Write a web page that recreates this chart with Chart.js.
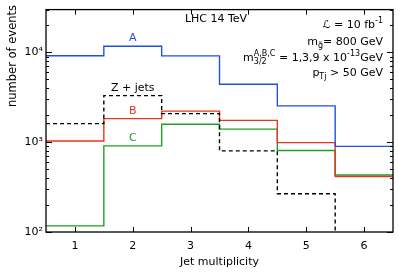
<!DOCTYPE html>
<html>
<head>
<meta charset="utf-8">
<script src="https://cdn.jsdelivr.net/npm/chart.js@4/dist/chart.umd.min.js"></script>
<style>
  html, body { margin: 0; padding: 0; background: #fff; }
  canvas { display: block; }
</style>
</head>
<body>
<canvas id="grafica" width="399" height="279"></canvas>
<script>
// jet multiplicity bins
const jetBins = [1, 2, 3, 4, 5, 6];
// number of events per bin
const modelA = [9200, 11700, 9150, 4430, 2540, 900];
const modelB = [1030, 1830, 2220, 1750, 990, 415];
const modelC = [117, 910, 1585, 1400, 810, 432];
const zJets = [1610, 3300, 2080, 800, 267, 50];
const yTickLabels = { 100: '10²', 1000: '10³', 10000: '10⁴' };

const FONT = 'DejaVu Sans';

// histogram outline: two points per bin (left edge, right edge)
function steps(values) {
    let pts = [];
    jetBins.forEach((b, i) => {
        pts.push({ x: b - 0.5, y: values[i] });
        pts.push({ x: b + 0.5, y: values[i] });
    });
    return pts;
}

function serie(label, values, color, dash) {
    return {
        label: label,
        data: steps(values),
        borderColor: color,
        borderWidth: 1.4,
        borderDash: dash || [],
        pointRadius: 0,
        fill: false,
        tension: 0
    };
}

// draws text made of normal / sub / sup pieces, right aligned at x
function richText(ctx, parts, xRight, y) {
    const big = '11px "' + FONT + '"';
    const small = '8px "' + FONT + '"';
    let widths = parts.map(p => {
        if (p.t === 'n') { ctx.font = big; return ctx.measureText(p.s).width; }
        ctx.font = small;
        if (p.t === 'supsub') return Math.max(ctx.measureText(p.s).width, ctx.measureText(p.b).width);
        return ctx.measureText(p.s).width;
    });
    let x = xRight - widths.reduce((a, b) => a + b, 0);
    ctx.textAlign = 'left';
    ctx.textBaseline = 'middle';
    parts.forEach((p, i) => {
        if (p.t === 'n') { ctx.font = big; ctx.fillText(p.s, x, y); }
        else if (p.t === 'sub') { ctx.font = small; ctx.fillText(p.s, x, y + 4); }
        else if (p.t === 'sup') { ctx.font = small; ctx.fillText(p.s, x, y - 4); }
        else { ctx.font = small; ctx.fillText(p.s, x, y - 4); ctx.fillText(p.b, x, y + 4); }
        x += widths[i];
    });
}

const marcoPlugin = {
    id: 'marco',
    afterDatasetsDraw(chart) {
        const ctx = chart.ctx;
        const a = chart.chartArea;
        const xs = chart.scales.x;
        const ys = chart.scales.y;
        ctx.save();
        ctx.strokeStyle = '#000';
        ctx.lineWidth = 1.3;
        ctx.strokeRect(a.left, a.top, a.right - a.left, a.bottom - a.top);
        ctx.lineWidth = 1;
        ctx.beginPath();
        jetBins.forEach(b => {
            const px = Math.round(xs.getPixelForValue(b)) + 0.5;
            ctx.moveTo(px, a.bottom); ctx.lineTo(px, a.bottom - 5);
            ctx.moveTo(px, a.top); ctx.lineTo(px, a.top + 5);
        });
        for (let dec = 100; dec <= 10000; dec *= 10) {
            for (let m = 1; m <= 9; m++) {
                const v = dec * m;
                if (v > ys.max) break;
                const py = Math.round(ys.getPixelForValue(v)) + 0.5;
                const len = m === 1 ? 6 : 3;
                ctx.moveTo(a.left, py); ctx.lineTo(a.left + len, py);
                ctx.moveTo(a.right, py); ctx.lineTo(a.right - len, py);
            }
        }
        ctx.stroke();

        // curve labels above bin 2
        const x2 = xs.getPixelForValue(2);
        ctx.font = '11px "' + FONT + '"';
        ctx.textAlign = 'center';
        ctx.textBaseline = 'middle';
        [['A', modelA, '#1f4fe6'], ['Z + jets', zJets, '#000'], ['B', modelB, '#e8341c'], ['C', modelC, '#1f9e25']].forEach(l => {
            ctx.fillStyle = l[2];
            ctx.fillText(l[0], x2, ys.getPixelForValue(l[1][1]) - 8);
        });

        ctx.fillStyle = '#000';
        ctx.fillText('LHC 14 TeV', 216, 19);

        // axis titles
        ctx.fillText('Jet multiplicity', (a.left + a.right) / 2, 262);
        ctx.save();
        ctx.translate(13, 56);
        ctx.rotate(-Math.PI / 2);
        ctx.font = '11.5px "' + FONT + '"';
        ctx.fillText('number of events', 0, 0);
        ctx.restore();

        const xr = a.right - 10;
        richText(ctx, [{ t: 'n', s: 'ℒ = 10 fb' }, { t: 'sup', s: '-1' }], xr, 25);
        richText(ctx, [{ t: 'n', s: 'm' }, { t: 'sub', s: 'g̃' }, { t: 'n', s: '= 800 GeV' }], xr, 42);
        richText(ctx, [{ t: 'n', s: 'm' }, { t: 'supsub', s: 'A,B,C', b: '3/2' }, { t: 'n', s: ' = 1,3,9 x 10' }, { t: 'sup', s: '-13' }, { t: 'n', s: 'GeV' }], xr, 58);
        richText(ctx, [{ t: 'n', s: 'p' }, { t: 'sub', s: 'Tj' }, { t: 'n', s: ' > 50 GeV' }], xr, 73);
        ctx.restore();
    }
};

const ctx = document.getElementById('grafica').getContext('2d');
new Chart(ctx, {
    type: 'line',
    data: {
        datasets: [
            serie('A', modelA, '#1f4fe6'),
            serie('Z + jets', zJets, '#000', [4, 3]),
            serie('B', modelB, '#e8341c'),
            serie('C', modelC, '#1f9e25')
        ]
    },
    options: {
        responsive: false,
        animation: false,
        layout: { padding: { left: 0, right: 6, top: 6, bottom: 0 } },
        plugins: { legend: { display: false }, tooltip: { enabled: false } },
        scales: {
            x: {
                type: 'linear',
                min: 0.5,
                max: 6.5,
                afterBuildTicks: s => { s.ticks = jetBins.map(v => ({ value: v })); },
                afterFit: s => { s.height = 47; },
                grid: { display: false, drawTicks: false },
                border: { display: false },
                ticks: { color: '#000', padding: 8, font: { family: FONT, size: 11 } }
            },
            y: {
                type: 'logarithmic',
                min: 100,
                max: 30000,
                afterBuildTicks: s => { s.ticks = [100, 1000, 10000].map(v => ({ value: v })); },
                afterFit: s => { s.width = 46; },
                grid: { display: false, drawTicks: false },
                border: { display: false },
                ticks: { color: '#000', padding: 3, font: { family: FONT, size: 11 }, callback: v => yTickLabels[v] || '' }
            }
        }
    },
    plugins: [marcoPlugin]
});
</script>
</body>
</html>
